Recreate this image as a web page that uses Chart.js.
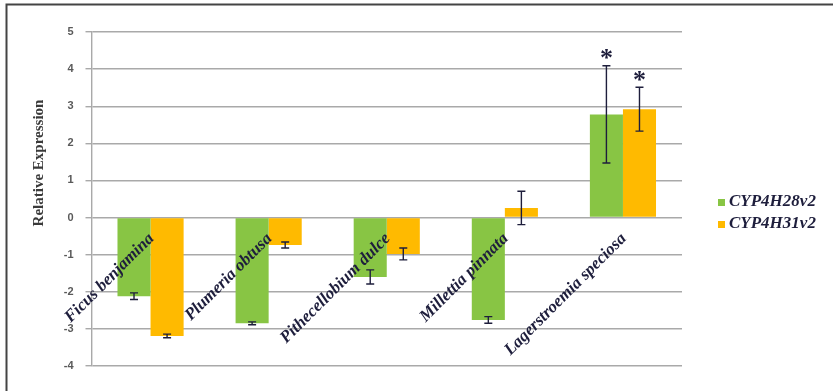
<!DOCTYPE html>
<html>
<head>
<meta charset="utf-8">
<script src="https://cdn.jsdelivr.net/npm/chart.js@4.4.1/dist/chart.umd.min.js"></script>
<style>
    html, body { margin: 0; padding: 0; background: #ffffff; }
    #wrap { width: 833px; height: 391px; position: relative; }
</style>
</head>
<body>
<div id="wrap"><canvas id="grafica"></canvas></div>
<script>
// Datos
const categorias = ['Ficus benjamina', 'Plumeria obtusa', 'Pithecellobium dulce', 'Millettia pinnata', 'Lagerstroemia speciosa'];
const seriesNames = ['CYP4H28v2', 'CYP4H31v2'];
const cyp28 = [-2.12, -2.85, -1.60, -2.76, 2.78];
const cyp28Err = [0.09, 0.04, 0.19, 0.09, 1.31];
const cyp31 = [-3.19, -0.74, -0.98, 0.26, 2.92];
const cyp31Err = [0.05, 0.08, 0.16, 0.45, 0.59];
const significativo = [false, false, false, false, true];
const yTicks = [5, 4, 3, 2, 1, 0, -1, -2, -3, -4];

const verde = '#88c544';
const naranja = '#ffba00';
const tinta = '#1e1e3c';

// Marco, errores, asteriscos, etiquetas y leyenda
const extras = {
    id: 'extras',
    beforeDraw(chart) {
        const ctx = chart.ctx;
        ctx.save();
        ctx.fillStyle = '#ffffff';
        ctx.fillRect(0, 0, chart.width, chart.height);
        ctx.strokeStyle = '#444444';
        ctx.lineWidth = 2;
        ctx.beginPath();
        ctx.moveTo(6.5, chart.height);
        ctx.lineTo(6.5, 4.5);
        ctx.lineTo(chart.width, 4.5);
        ctx.stroke();
        ctx.restore();
    },
    afterDatasetsDraw(chart) {
        const ctx = chart.ctx;
        const y = chart.scales.y;
        const x = chart.scales.x;
        const errores = [cyp28Err, cyp31Err];
        ctx.save();
        // barras de error
        ctx.strokeStyle = tinta;
        ctx.lineWidth = 1.4;
        chart.data.datasets.forEach((ds, d) => {
            chart.getDatasetMeta(d).data.forEach((bar, i) => {
                const v = ds.data[i];
                const e = errores[d][i];
                const top = y.getPixelForValue(v + e);
                const bot = y.getPixelForValue(v - e);
                ctx.beginPath();
                ctx.moveTo(bar.x, top); ctx.lineTo(bar.x, bot);
                ctx.moveTo(bar.x - 4, top); ctx.lineTo(bar.x + 4, top);
                ctx.moveTo(bar.x - 4, bot); ctx.lineTo(bar.x + 4, bot);
                ctx.stroke();
                if (significativo[i]) {
                    ctx.fillStyle = tinta;
                    ctx.font = 'bold 26px "Liberation Serif", "Times New Roman", serif';
                    ctx.textAlign = 'center';
                    ctx.textBaseline = 'middle';
                    ctx.fillText('*', bar.x, top - 6);
                }
            });
        });
        // nombres de especies, inclinados
        ctx.fillStyle = tinta;
        ctx.font = 'italic bold 17px "Liberation Serif", "Times New Roman", serif';
        ctx.textAlign = 'right';
        ctx.textBaseline = 'middle';
        categorias.forEach((c, i) => {
            ctx.save();
            ctx.translate(x.getPixelForValue(i) + 1, y.getPixelForValue(-0.5));
            ctx.rotate(-Math.PI / 4);
            ctx.fillText(c, 0, 0);
            ctx.restore();
        });
        // titulo del eje y
        ctx.save();
        ctx.fillStyle = '#3a3a3a';
        ctx.font = 'bold 15px "Liberation Serif", "Times New Roman", serif';
        ctx.textAlign = 'center';
        ctx.textBaseline = 'middle';
        ctx.translate(39, 163);
        ctx.rotate(-Math.PI / 2);
        ctx.fillText('Relative Expression', 0, 0);
        ctx.restore();
        // leyenda
        const colores = [verde, naranja];
        ctx.font = 'italic bold 17px "Liberation Serif", "Times New Roman", serif';
        ctx.textAlign = 'left';
        ctx.textBaseline = 'middle';
        seriesNames.forEach((n, k) => {
            const yy = 202 + k * 22;
            ctx.fillStyle = colores[k];
            ctx.fillRect(718, yy - 3, 7, 7);
            ctx.fillStyle = tinta;
            ctx.fillText(n, 729, yy);
        });
        ctx.restore();
    }
};

const ctx = document.getElementById('grafica').getContext('2d');
new Chart(ctx, {
    type: 'bar',
    data: {
        labels: categorias,
        datasets: [
            { label: seriesNames[0], data: cyp28, backgroundColor: verde, borderWidth: 0 },
            { label: seriesNames[1], data: cyp31, backgroundColor: naranja, borderWidth: 0 }
        ]
    },
    options: {
        responsive: true,
        maintainAspectRatio: false,
        animation: false,
        layout: { padding: { left: 0, right: 151, top: 32, bottom: 25 } },
        datasets: { bar: { categoryPercentage: 0.56, barPercentage: 1.0 } },
        plugins: {
            legend: { display: false },
            tooltip: { enabled: false }
        },
        scales: {
            x: {
                ticks: { display: false },
                grid: { display: false },
                border: { display: false },
                afterFit(scale) { scale.height = 0; }
            },
            y: {
                min: -4,
                max: 5,
                afterBuildTicks(scale) { scale.ticks = yTicks.map(v => ({ value: v })); },
                afterFit(scale) { scale.width = 91.5; },
                ticks: {
                    padding: 12,
                    color: '#5a5a5a',
                    font: { family: '"Liberation Sans", Arial, sans-serif', size: 11, weight: 'bold' }
                },
                grid: { color: '#a9a9a9', lineWidth: 1.4, tickLength: 6 },
                border: { color: '#a9a9a9', width: 1.4 }
            }
        }
    },
    plugins: [extras]
});
</script>
</body>
</html>
